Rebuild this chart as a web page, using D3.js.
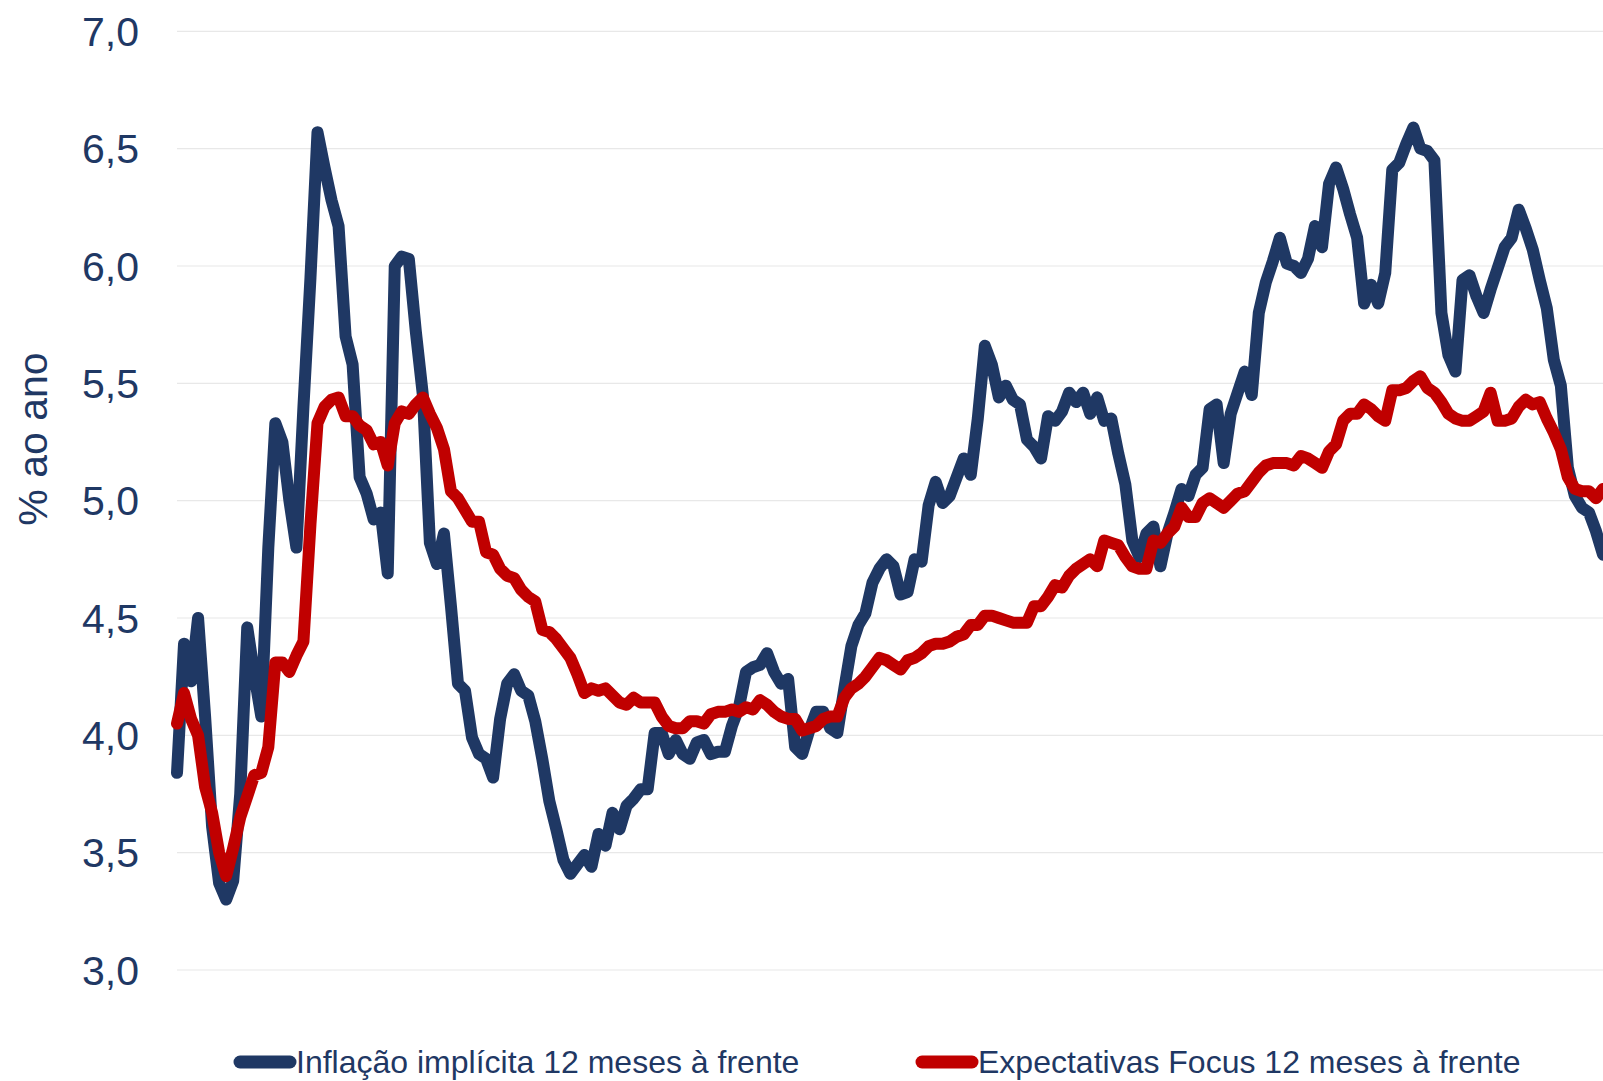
<!DOCTYPE html>
<html>
<head>
  <meta charset="UTF-8">
  <style>
    body {
      margin: 0;
      background: #ffffff;
      font-family: "Liberation Sans", Arial, sans-serif;
    }
    svg { display: block; }
    .tick-label {
      font-size: 41px;
      fill: #1f3864;
    }
    .axis-title {
      font-size: 41px;
      fill: #1f3864;
    }
    .legend text {
      font-size: 32px;
      fill: #1f3864;
    }
  </style>
</head>
<body>
  <svg></svg>
  <script src="https://d3js.org/d3.v7.min.js"></script>
  <script>
    // series names
    const seriesNames = ["Inflação implícita 12 meses à frente", "Expectativas Focus 12 meses à frente"];

    // Inflação implícita 12 meses à frente (% ao ano), one value per period
    const inflacaoImplicita = [
      3.84, 4.39, 4.23, 4.50, 4.08, 3.61, 3.37, 3.30, 3.38, 3.75,
      4.46, 4.26, 4.08, 4.80, 5.33, 5.25, 5.00, 4.80, 5.40, 5.95,
      6.57, 6.42, 6.28, 6.17, 5.70, 5.58, 5.10, 5.03, 4.92, 4.95,
      4.69, 6.00, 6.04, 6.03, 5.72, 5.45, 4.82, 4.73, 4.86, 4.55,
      4.22, 4.19, 3.99, 3.92, 3.90, 3.82, 4.07, 4.22, 4.26, 4.19,
      4.17, 4.06, 3.90, 3.72, 3.60, 3.47, 3.41, 3.45, 3.49, 3.44,
      3.58, 3.53, 3.67, 3.60, 3.70, 3.73, 3.77, 3.77, 4.01, 4.01,
      3.92, 3.98, 3.92, 3.90, 3.97, 3.98, 3.92, 3.93, 3.93, 4.04,
      4.12, 4.27, 4.29, 4.30, 4.35, 4.27, 4.22, 4.24, 3.95, 3.92,
      4.02, 4.10, 4.10, 4.03, 4.01, 4.20, 4.38, 4.47, 4.52, 4.65,
      4.71, 4.75, 4.72, 4.60, 4.61, 4.75, 4.74, 4.98, 5.08, 4.99,
      5.02, 5.10, 5.18, 5.11, 5.35, 5.66, 5.58, 5.44, 5.49, 5.43,
      5.41, 5.26, 5.23, 5.18, 5.36, 5.34, 5.38, 5.46, 5.42, 5.46,
      5.37, 5.44, 5.34, 5.35, 5.20, 5.07, 4.83, 4.76, 4.86, 4.89,
      4.72, 4.86, 4.95, 5.05, 5.02, 5.11, 5.14, 5.39, 5.41, 5.16,
      5.37, 5.46, 5.55, 5.45, 5.80, 5.93, 6.02, 6.12, 6.01, 6.00,
      5.97, 6.03, 6.17, 6.08, 6.35, 6.42, 6.33, 6.22, 6.12, 5.84,
      5.92, 5.84, 5.97, 6.41, 6.44, 6.52, 6.59, 6.50, 6.49, 6.45,
      5.80, 5.62, 5.55, 5.94, 5.96, 5.87, 5.80, 5.90, 5.99, 6.08,
      6.12, 6.24, 6.16, 6.07, 5.94, 5.82, 5.60, 5.49, 5.14, 5.02,
      4.97, 4.95, 4.87, 4.77
    ];

    // Expectativas Focus 12 meses à frente (% ao ano)
    const expectativasFocus = [
      4.05, 4.18, 4.07, 4.00, 3.78, 3.67, 3.50, 3.40, 3.52, 3.65,
      3.74, 3.83, 3.84, 3.95, 4.31, 4.31, 4.27, 4.34, 4.40, 4.90,
      5.33, 5.40, 5.43, 5.44, 5.36, 5.36, 5.32, 5.30, 5.24, 5.25,
      5.15, 5.33, 5.38, 5.37, 5.41, 5.44, 5.37, 5.31, 5.22, 5.04,
      5.01, 4.96, 4.91, 4.91, 4.78, 4.77, 4.71, 4.68, 4.67, 4.62,
      4.59, 4.57, 4.45, 4.44, 4.41, 4.37, 4.33, 4.26, 4.18, 4.20,
      4.19, 4.20, 4.17, 4.14, 4.13, 4.16, 4.14, 4.14, 4.14, 4.08,
      4.04, 4.03, 4.03, 4.06, 4.06, 4.05, 4.09, 4.10, 4.10, 4.11,
      4.10, 4.12, 4.11, 4.15, 4.13, 4.10, 4.08, 4.07, 4.07, 4.02,
      4.03, 4.04, 4.07, 4.08, 4.08, 4.16, 4.20, 4.22, 4.25, 4.29,
      4.33, 4.32, 4.30, 4.28, 4.32, 4.33, 4.35, 4.38, 4.39, 4.39,
      4.40, 4.42, 4.43, 4.47, 4.47, 4.51, 4.51, 4.50, 4.49, 4.48,
      4.48, 4.48, 4.55, 4.55, 4.59, 4.64, 4.63, 4.68, 4.71, 4.73,
      4.75, 4.72, 4.83, 4.82, 4.81, 4.76, 4.72, 4.71, 4.71, 4.83,
      4.82, 4.86, 4.89, 4.97, 4.93, 4.93, 4.99, 5.01, 4.99, 4.97,
      5.00, 5.03, 5.04, 5.08, 5.12, 5.15, 5.16, 5.16, 5.16, 5.15,
      5.19, 5.18, 5.16, 5.14, 5.21, 5.24, 5.34, 5.37, 5.37, 5.41,
      5.39, 5.36, 5.34, 5.47, 5.47, 5.48, 5.51, 5.53, 5.48, 5.46,
      5.42, 5.37, 5.35, 5.34, 5.34, 5.36, 5.38, 5.46, 5.34, 5.34,
      5.35, 5.40, 5.43, 5.41, 5.42, 5.35, 5.29, 5.22, 5.10, 5.05,
      5.04, 5.04, 5.01, 5.05
    ];

    // y axis ticks
    const yTicks = [3.0, 3.5, 4.0, 4.5, 5.0, 5.5, 6.0, 6.5, 7.0];
    const colors = ["#1f3864", "#c00000"];

    let width = 1603, height = 1081;
    let svg = d3.select("svg")
        .attr("width", width)
        .attr("height", height);

    let x = d3.scaleLinear()
        .domain([0, inflacaoImplicita.length - 1])
        .range([177, 1603]);

    let y = d3.scaleLinear()
        .domain([3, 7])
        .range([970, 31.3]);

    let fmt = d => d.toFixed(1).replace(".", ",");

    // gridlines
    svg.append("g")
        .selectAll("line")
        .data(yTicks)
        .enter()
        .append("line")
        .attr("x1", 177)
        .attr("x2", width)
        .attr("y1", d => y(d))
        .attr("y2", d => y(d))
        .attr("stroke", "#e8e8e8")
        .attr("stroke-width", 1.2);

    // tick labels
    svg.append("g")
        .selectAll("text")
        .data(yTicks)
        .enter()
        .append("text")
        .attr("class", "tick-label")
        .attr("x", 139)
        .attr("y", d => y(d))
        .attr("dy", "0.36em")
        .attr("text-anchor", "end")
        .text(fmt);

    svg.append("text")
        .attr("class", "axis-title")
        .attr("transform", "translate(47, 439) rotate(-90)")
        .attr("text-anchor", "middle")
        .text("% ao ano");

    let line = d3.line()
        .x((d, i) => x(i))
        .y(d => y(d));

    [inflacaoImplicita, expectativasFocus].forEach((serie, k) => {
        svg.append("path")
            .datum(serie)
            .attr("d", line)
            .attr("fill", "none")
            .attr("stroke", colors[k])
            .attr("stroke-width", 12)
            .attr("stroke-linejoin", "round")
            .attr("stroke-linecap", "round");
    });

    // legend
    let legendX = [240, 922];
    let legend = svg.append("g").attr("class", "legend");
    seriesNames.forEach((name, k) => {
        legend.append("line")
            .attr("x1", legendX[k])
            .attr("x2", legendX[k] + 50)
            .attr("y1", 1062)
            .attr("y2", 1062)
            .attr("stroke", colors[k])
            .attr("stroke-width", 13)
            .attr("stroke-linecap", "round");
        legend.append("text")
            .attr("x", legendX[k] + 56)
            .attr("y", 1073)
            .text(name);
    });
  </script>
</body>
</html>
